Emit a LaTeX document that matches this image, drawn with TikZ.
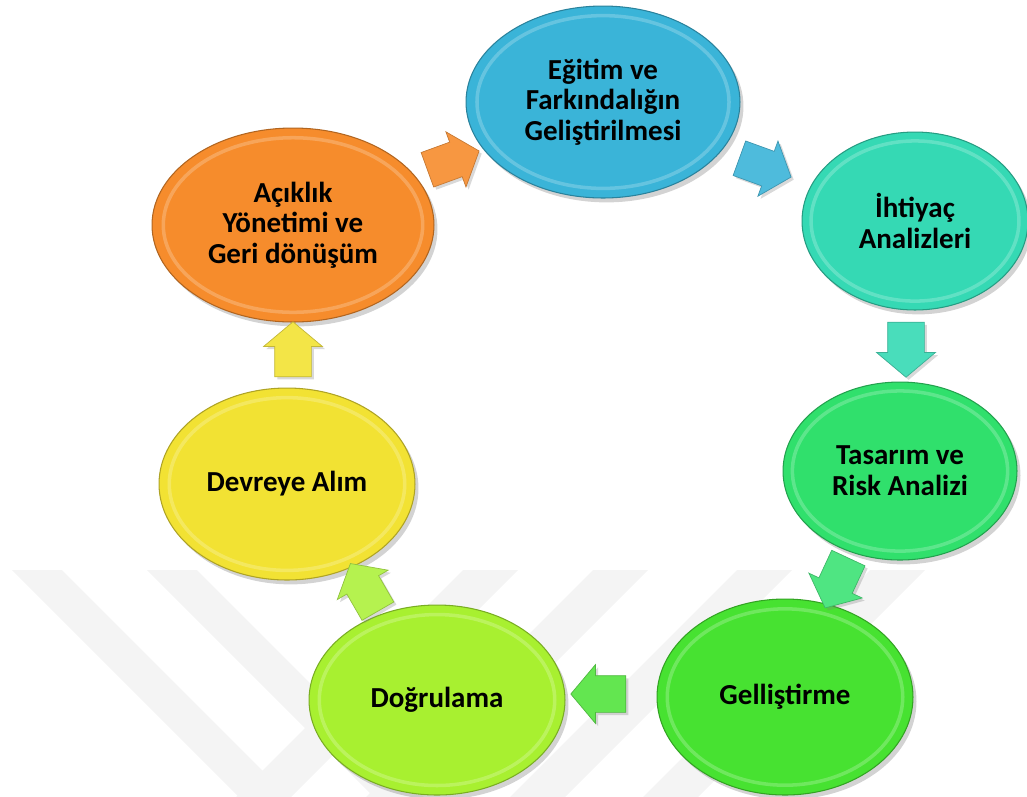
\documentclass[tikz,border=0pt]{standalone}
\usepackage{fontspec}
\setmainfont{Carlito}
\usetikzlibrary{shapes.geometric,shapes.arrows,shadows,calc}

\definecolor{cEgitim}{HTML}{3AB4D8}
\definecolor{cIhtiyac}{HTML}{35D9B4}
\definecolor{cTasarim}{HTML}{30E06C}
\definecolor{cGelis}{HTML}{47E231}
\definecolor{cDogru}{HTML}{A8F030}
\definecolor{cDevreye}{HTML}{F2E233}
\definecolor{cAciklik}{HTML}{F68C2C}

\tikzset{
  stage/.style={ellipse, fill=#1, draw=#1!72!black, line width=0.6pt, inner sep=0pt,
    align=center, font=\bfseries\fontsize{16.5}{17.5}\selectfont,
    drop shadow={shadow xshift=2pt, shadow yshift=-2.5pt, opacity=.35},
    path picture={
      \draw[white, opacity=.22, line width=2pt]
        let \p1=($(path picture bounding box.north east)-(path picture bounding box.south west)$) in
        (path picture bounding box.center) ellipse [x radius={0.46*\x1}, y radius={0.45*\y1}];
    }},
  flow/.style={single arrow, fill=#1, draw=#1!80!black, line width=0.4pt,
    minimum height=1.1cm, inner xsep=0pt, inner ysep=0.36cm,
    single arrow head extend=0.22cm, single arrow tip angle=100,
    drop shadow={shadow xshift=1.5pt, shadow yshift=-1.5pt, opacity=.3}},
  band/.style={fill=gray!9, draw=none}
}

\begin{document}
\begin{tikzpicture}[x=0.02cm, y=-0.02cm]
\useasboundingbox (0,0) rectangle (1027,796);

\begin{scope}
  \clip (0,0) rectangle (1027,796);
  \foreach \a in {12,147}
    \fill[band] (\a,570) -- (\a+50,570) -- (\a+310,830) -- (\a+260,830) -- cycle;
  \foreach \b in {463,593,737,870}
    \fill[band] (\b,570) -- (\b+55,570) -- (\b-205,830) -- (\b-260,830) -- cycle;
\end{scope}

\node[stage=cEgitim, minimum width=5.48cm, minimum height=3.84cm] (egitim) at (603,102) {Eğitim ve\\Farkındalığın\\Geliştirilmesi};
\node[stage=cIhtiyac, minimum width=4.52cm, minimum height=3.56cm] (ihtiyac) at (915,221) {İhtiyaç\\Analizleri};
\node[stage=cTasarim, minimum width=4.68cm, minimum height=3.56cm] (tasarim) at (900,471) {Tasarım ve\\Risk Analizi};
\node[stage=cGelis, minimum width=5.12cm, minimum height=3.92cm] (gelis) at (785,697) {Gelliştirme};
\node[stage=cDogru, minimum width=5.12cm, minimum height=3.8cm] (dogru) at (437,700) {Doğrulama};
\node[stage=cDevreye, minimum width=5.12cm, minimum height=3.84cm] (devreye) at (287,484) {Devreye Alım};
\node[stage=cAciklik, minimum width=5.64cm, minimum height=3.88cm] (aciklik) at (293,225) {Açıklık\\Yönetimi ve\\Geri dönüşüm};

\node[flow=cAciklik!90!white, rotate=20] (ok1) at (446,163) {};
\node[flow=cEgitim!90!white, rotate=-20] (ok2) at (758,165) {};
\node[flow=cIhtiyac!90!white, rotate=-90] (ok3) at (906,342) {};
\node[flow=cTasarim!85!white, rotate=-115] (ok4) at (840,576) {};
\node[flow=cGelis!85!white, rotate=180] (ok5) at (606,694) {};
\node[flow=cDogru!85!white, rotate=120] (ok6) at (368,594) {};
\node[flow=cDevreye!90!white, rotate=90] (ok7) at (293,357) {};
\end{tikzpicture}
\end{document}
